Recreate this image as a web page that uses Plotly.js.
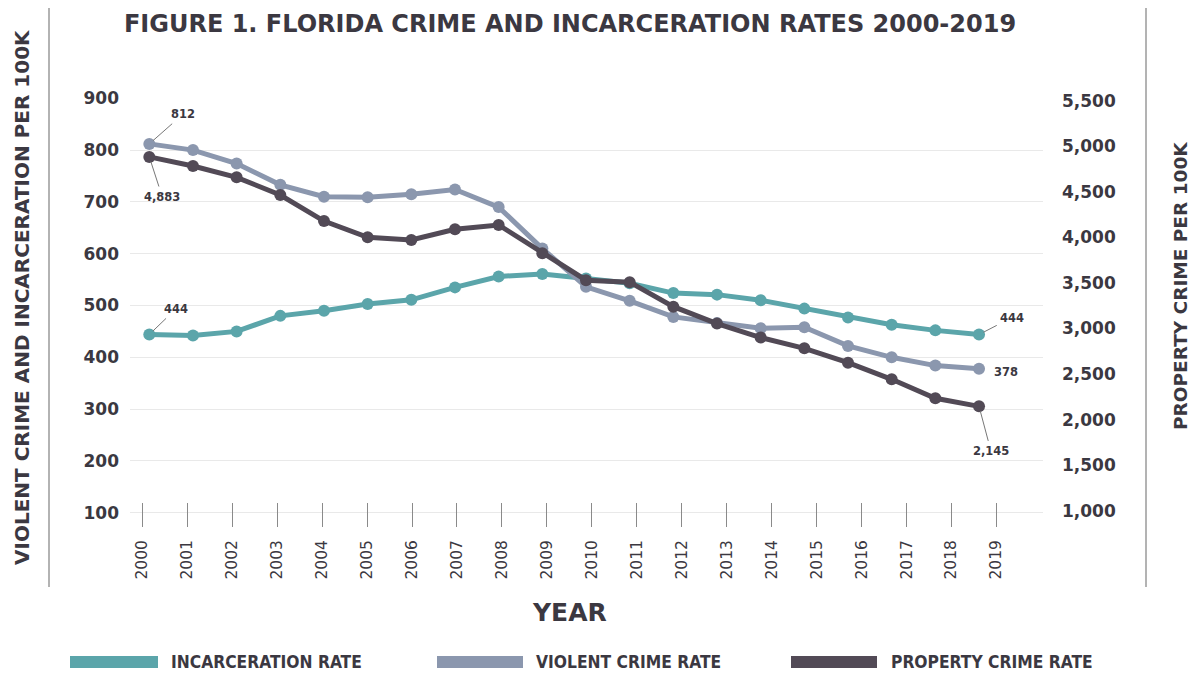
<!DOCTYPE html>
<html>
<head>
<meta charset="utf-8">
<script src="https://cdn.plot.ly/plotly-3.0.1.min.js"></script>
<style>html,body{margin:0;padding:0;background:#fff;}#chart{width:1190px;height:673px;}</style>
</head>
<body>
<div id="chart"></div>
<script>
// ---- data ----
const years = [2000,2001,2002,2003,2004,2005,2006,2007,2008,2009,2010,2011,2012,2013,2014,2015,2016,2017,2018,2019];
const incarceration = [444,442,450,480,490,503,511,535,556,561,552,543,524,521,510,494,477,463,452,444];
const violent = [812,800,774,733,710,709,715,724,690,610,536,509,478,466,456,458,422,400,384,378];
const property = [4883,4783,4659,4465,4179,4000,3971,4088,4136,3825,3530,3508,3239,3053,2900,2782,2624,2442,2233,2145];
const leftTicks = [100,200,300,400,500,600,700,800,900];
const rightTicks = [1000,1500,2000,2500,3000,3500,4000,4500,5000,5500];
const tickYears = years;
const seriesNames = ['INCARCERATION RATE','VIOLENT CRIME RATE','PROPERTY CRIME RATE'];
const titleText = 'FIGURE 1. FLORIDA CRIME AND INCARCERATION RATES 2000-2019';

// ---- styles ----
const C_INC = '#5ba5aa', C_VIO = '#8b97ae', C_PRO = '#524a56';
const TXT = '#3b3841';
const BOLD = '"DejaVu Sans", "Open Sans", sans-serif';
const NARROW = '"DejaVu Sans Condensed", "Liberation Sans Narrow", "Roboto", sans-serif';

const W = 1190, H = 673, ML = 130, MR = 147, MT = 98, MB = 146;
const PW = W - ML - MR, PH = H - MT - MB;
const px = x => (x - ML) / PW;
const py = y => (H - MB - y) / PH;

function tr(y, name, color, yaxis) {
  return {x: years, y: y, name: name, xaxis: 'x2', yaxis: yaxis, mode: 'lines+markers',
    line: {color: color, width: 5}, marker: {color: color, size: 12}, showlegend: false,
    cliponaxis: false, hoverinfo: 'skip'};
}
const data = [
  // empty trace so the year axis (x) is registered and drawn
  {x: [], y: [], xaxis: 'x', yaxis: 'y', type: 'scatter', mode: 'lines', showlegend: false, hoverinfo: 'skip'},
  tr(incarceration, seriesNames[0], C_INC, 'y'),
  tr(violent, seriesNames[1], C_VIO, 'y'),
  tr(property, seriesNames[2], C_PRO, 'y2')
];

const lblFont = {family: BOLD, size: 11.5, color: TXT, weight: 700};
function callout(yr, val, yref, txt, ax, ay) {
  return {xref: 'x2', yref: yref, x: yr, y: val, text: txt, showarrow: true, arrowhead: 0,
    arrowwidth: 1, arrowcolor: '#777', ax: ax, ay: ay, standoff: 5, startstandoff: 2, font: lblFont};
}
const n = years.length - 1;
const annotations = [
  callout(years[0], violent[0], 'y', String(violent[0]), 34, -30),
  callout(years[0], property[0], 'y2', property[0].toLocaleString('en-US'), 13, 40),
  callout(years[0], incarceration[0], 'y', String(incarceration[0]), 27, -26),
  callout(years[n], incarceration[n], 'y', String(incarceration[n]), 33, -17),
  {xref: 'x2', yref: 'y', x: years[n], y: violent[n], text: String(violent[n]), showarrow: false,
    xshift: 27, yshift: -3, font: lblFont},
  callout(years[n], property[n], 'y2', property[n].toLocaleString('en-US'), 12, 45),
  // axis titles
  {xref: 'paper', yref: 'paper', x: px(22), y: py(297), xanchor: 'center', yanchor: 'middle',
    text: 'VIOLENT CRIME AND INCARCERATION PER 100K',
    textangle: -90, showarrow: false, font: {family: BOLD, size: 20, color: TXT, weight: 700}},
  {xref: 'paper', yref: 'paper', x: px(1180), y: py(286), xanchor: 'center', yanchor: 'middle',
    text: 'PROPERTY CRIME PER 100K',
    textangle: -90, showarrow: false, font: {family: BOLD, size: 18.5, color: TXT, weight: 700}},
  {xref: 'paper', yref: 'paper', x: px(569), y: py(612), xanchor: 'center', yanchor: 'middle', text: 'YEAR',
    showarrow: false, font: {family: BOLD, size: 25, color: TXT, weight: 700}}
];

// legend (manual)
const legendItems = [
  {name: seriesNames[0], color: C_INC, x0: 70, x1: 158, tx: 169},
  {name: seriesNames[1], color: C_VIO, x0: 437, x1: 523, tx: 534},
  {name: seriesNames[2], color: C_PRO, x0: 791, x1: 877, tx: 889}
];
const shapes = [
  {type: 'line', xref: 'paper', yref: 'paper', x0: px(49), x1: px(49), y0: py(8), y1: py(587), line: {color: '#9a9a9a', width: 1.5}},
  {type: 'line', xref: 'paper', yref: 'paper', x0: px(1146), x1: px(1146), y0: py(8), y1: py(587), line: {color: '#9a9a9a', width: 1.5}}
];
legendItems.forEach(it => {
  shapes.push({type: 'rect', xref: 'paper', yref: 'paper', x0: px(it.x0), x1: px(it.x1), y0: py(668), y1: py(656),
    fillcolor: it.color, line: {width: 0}});
  annotations.push({xref: 'paper', yref: 'paper', x: px(it.tx), y: py(662), xanchor: 'left', yanchor: 'middle',
    text: it.name, showarrow: false, font: {family: NARROW, size: 17.3, color: TXT, weight: 700}});
});

const layout = {
  width: W, height: H,
  margin: {l: ML, r: MR, t: MT, b: MB, pad: 0},
  paper_bgcolor: '#fff', plot_bgcolor: '#fff',
  title: {text: titleText, x: 570 / W, xanchor: 'center', y: 1 - 24 / H, yanchor: 'middle', yref: 'container',
    font: {family: BOLD, size: 24, color: TXT, weight: 700}},
  xaxis: {type: 'linear', range: [1999.726, 2020.037], tickmode: 'array', tickvals: tickYears, ticktext: tickYears.map(String),
    tickangle: -90, ticks: 'inside', ticklen: 24, tickwidth: 1, tickcolor: '#8a8a8a',
    showgrid: false, zeroline: false, showline: false, showticklabels: true, ticklabelstandoff: 9,
    tickfont: {family: BOLD, size: 15.5, color: TXT}},
  xaxis2: {type: 'linear', range: [1999.558, 2020.465], overlaying: 'x', anchor: 'y', visible: false},
  yaxis: {type: 'linear', range: [72.4, 900.6], tickmode: 'array', tickvals: leftTicks, showgrid: true, gridcolor: '#e9e9e9', gridwidth: 1,
    zeroline: false, showline: false, ticks: '', ticklabelstandoff: 10,
    tickfont: {family: BOLD, size: 17, color: TXT, weight: 700}},
  yaxis2: {type: 'linear', range: [820.6, 5529.6], overlaying: 'y', side: 'right', anchor: 'x', tickmode: 'array', tickvals: rightTicks,
    tickformat: ',d', showgrid: false, zeroline: false, showline: false, ticks: '', ticklabelstandoff: 18,
    tickfont: {family: BOLD, size: 17, color: TXT, weight: 700}},
  shapes: shapes,
  annotations: annotations,
  showlegend: false
};

Plotly.newPlot('chart', data, layout, {displayModeBar: false, staticPlot: true});
</script>
</body>
</html>
